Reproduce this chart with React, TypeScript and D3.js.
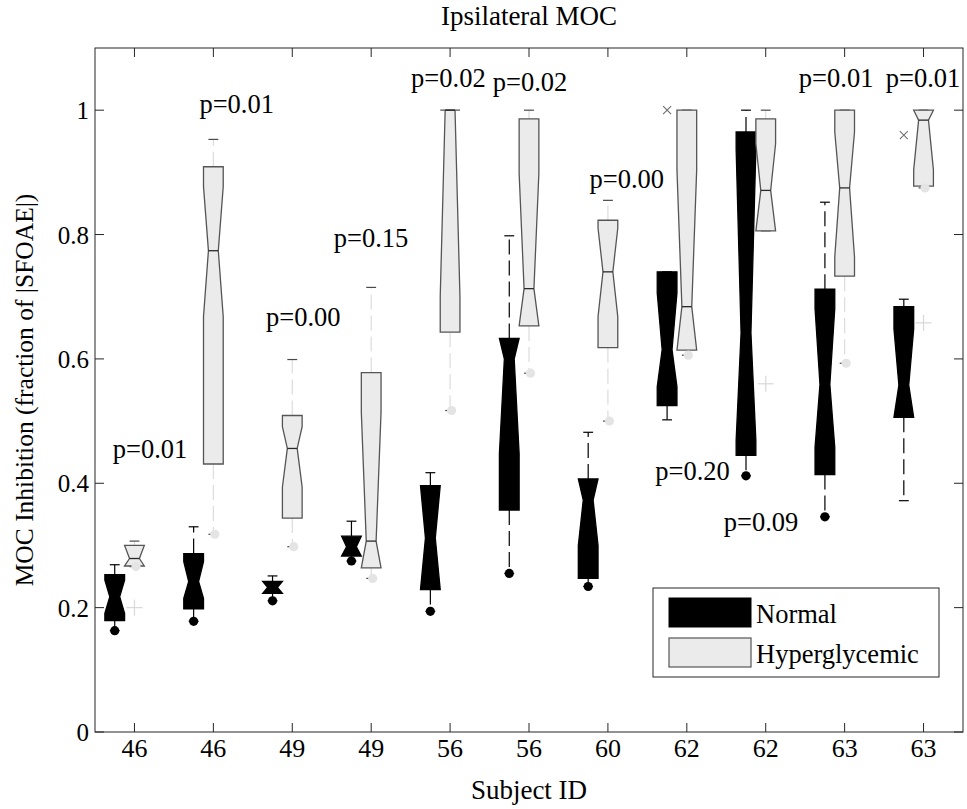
import React from "react";
import * as d3 from "d3";

const categories = ["46", "46", "49", "49", "56", "56", "60", "62", "62", "63", "63"];
const yTicks = [0, 0.2, 0.4, 0.6, 0.8, 1];
const yTickLabels = ["0", "0.2", "0.4", "0.6", "0.8", "1"];

// Normal (black) notched boxes
const normalQ1 = [0.179, 0.198, 0.223, 0.283, 0.229, 0.357, 0.247, 0.525, 0.445, 0.414, 0.506];
const normalMed = [0.2175, 0.242, 0.2325, 0.298, 0.312, 0.6, 0.373, 0.615, 0.642, 0.559, 0.558];
const normalQ3 = [0.253, 0.287, 0.242, 0.315, 0.396, 0.633, 0.407, 0.74, 0.965, 0.712, 0.684];
const normalNotchLo = [0.191, 0.215, 0.215, 0.28, 0.22, 0.448, 0.3, 0.555, 0.469, 0.458, 0.5];
const normalNotchHi = [0.244, 0.274, 0.26, 0.32, 0.4, 0.75, 0.45, 0.706, 0.937, 0.681, 0.648];
const normalWhiskHi = [0.269, 0.33, 0.251, 0.339, 0.417, 0.798, 0.482, 0.74, 1.0, 0.852, 0.696];
const normalWhiskLo = [0.163, 0.178, 0.211, 0.275, 0.194, 0.255, 0.234, 0.502, 0.412, 0.346, 0.372];
const normalLowDot = [true, true, true, true, true, true, true, false, true, true, false];

// Hyperglycemic (gray) notched boxes
const hyperQ1 = [0.267, 0.431, 0.344, 0.264, 0.643, 0.653, 0.618, 0.614, 0.806, 0.733, 0.878];
const hyperMed = [0.279, 0.774, 0.456, 0.307, 1.0, 0.713, 0.74, 0.684, 0.871, 0.875, 0.984];
const hyperQ3 = [0.3, 0.909, 0.509, 0.578, 1.0, 0.986, 0.823, 1.0, 0.986, 1.0, 1.0];
const hyperNotchLo = [0.26, 0.668, 0.394, 0.25, 0.7, 0.64, 0.668, 0.6, 0.8, 0.764, 0.904];
const hyperNotchHi = [0.31, 0.877, 0.491, 0.514, 1.05, 0.898, 0.81, 0.904, 0.946, 0.965, 1.05];
const hyperWhiskHi = [0.307, 0.953, 0.599, 0.715, 1.0, 1.0, 0.855, 1.0, 1.0, 1.0, 1.0];
const hyperWhiskLo = [0.266, 0.318, 0.298, 0.247, 0.517, 0.577, 0.5, 0.606, 0.806, 0.593, 0.875];
const hyperLowDot = [true, true, true, true, true, true, true, true, false, true, true];

// Extra markers
const plusPos = [1, 9, 11];
const plusVal = [0.2, 0.56, 0.658];
const crossPos = [7.75, 10.75];
const crossVal = [1.0, 0.96];

// p-value annotations
const pText = ["p=0.01", "p=0.01", "p=0.00", "p=0.15", "p=0.02", "p=0.02", "p=0.00", "p=0.20", "p=0.09", "p=0.01", "p=0.01"];
const pPos = [1.197, 2.296, 3.14, 3.998, 4.978, 6.013, 7.239, 8.073, 8.941, 9.892, 10.994];
const pVal = [0.455, 1.01, 0.668, 0.794, 1.051, 1.045, 0.89, 0.42, 0.338, 1.051, 1.051];

const FONT = '"Liberation Serif", "Times New Roman", Tinos, "DejaVu Serif", serif';
const W = 967;
const H = 809;

export default function App() {
  const x = d3.scaleLinear().domain([0.5, 11.5]).range([95, 963]);
  const y = d3.scaleLinear().domain([0, 1.1]).range([732, 48]);
  const hw = x(1.125) - x(1);
  const capW = hw / 2;
  const line = d3.line();

  const notchPath = (cx: number, q1: number, med: number, q3: number, nlo: number, nhi: number) => {
    const lo = Math.max(nlo, q1);
    const hi = Math.min(nhi, q3);
    const pts: [number, number][] = [
      [cx - hw, y(q1)], [cx - hw, y(lo)], [cx - hw / 2, y(med)], [cx - hw, y(hi)], [cx - hw, y(q3)],
      [cx + hw, y(q3)], [cx + hw, y(hi)], [cx + hw / 2, y(med)], [cx + hw, y(lo)], [cx + hw, y(q1)],
    ];
    return line(pts) + "Z";
  };

  const renderBox = (
    key: string, cx: number, q1: number, med: number, q3: number, nlo: number, nhi: number,
    wHi: number, wLo: number, dot: boolean, dark: boolean
  ) => {
    const whiskColor = dark ? "#000" : "#dcdcdc";
    const capColor = dark ? "#000" : "#4a4a4a";
    const dotColor = dark ? "#000" : "#e4e4e4";
    return (
      <g key={key}>
        {wHi > q3 && (
          <line x1={cx} x2={cx} y1={y(q3)} y2={y(wHi)} stroke={whiskColor} strokeWidth={1.2} strokeDasharray="15,6" />
        )}
        {wLo < q1 && (
          <line x1={cx} x2={cx} y1={y(q1)} y2={y(wLo)} stroke={whiskColor} strokeWidth={1.2} strokeDasharray="15,6" />
        )}
        <line x1={cx - capW} x2={cx + capW} y1={y(wHi)} y2={y(wHi)} stroke={capColor} strokeWidth={1.2} />
        <line x1={cx - capW} x2={cx + capW} y1={y(wLo)} y2={y(wLo)} stroke={capColor} strokeWidth={1.2} />
        <path
          d={notchPath(cx, q1, med, q3, nlo, nhi)}
          fill={dark ? "#000" : "#ebebeb"}
          stroke={dark ? "#000" : "#555"}
          strokeWidth={1.3}
          strokeLinejoin="miter"
        />
        {!dark && (
          <line x1={cx - hw / 2} x2={cx + hw / 2} y1={y(med)} y2={y(med)} stroke="#2a2a2a" strokeWidth={1.3} />
        )}
        {dot && <circle cx={cx + (dark ? 0 : 1.5)} cy={y(wLo)} r={4.6} fill={dotColor} />}
      </g>
    );
  };

  const axisColor = "#262626";
  const tickLen = 9;
  const ts = { fontFamily: FONT };

  return (
    <svg width={W} height={H} style={{ position: "absolute", left: 0, top: 0, background: "#fff" }}>
      <rect x={0} y={0} width={W} height={H} fill="#fff" />
      {/* title */}
      <text style={ts} x={529} y={25} textAnchor="middle" fontSize={27} fill="#000">Ipsilateral MOC</text>

      {/* boxes */}
      {categories.map((c, i) =>
        renderBox(
          "n" + i, x(i + 1 - 0.25), normalQ1[i], normalMed[i], normalQ3[i], normalNotchLo[i], normalNotchHi[i],
          normalWhiskHi[i], normalWhiskLo[i], normalLowDot[i], true
        )
      )}
      {categories.map((c, i) =>
        renderBox(
          "h" + i, x(i + 1), hyperQ1[i], hyperMed[i], hyperQ3[i], hyperNotchLo[i], hyperNotchHi[i],
          hyperWhiskHi[i], hyperWhiskLo[i], hyperLowDot[i], false
        )
      )}

      {/* plus markers */}
      {plusPos.map((p, i) => (
        <g key={"plus" + i} stroke="#d8d8d8" strokeWidth={1.2}>
          <line x1={x(p) - 8} x2={x(p) + 8} y1={y(plusVal[i])} y2={y(plusVal[i])} />
          <line x1={x(p)} x2={x(p)} y1={y(plusVal[i]) - 8} y2={y(plusVal[i]) + 8} />
        </g>
      ))}
      {/* cross markers */}
      {crossPos.map((p, i) => (
        <g key={"cross" + i} stroke="#707070" strokeWidth={1.1}>
          <line x1={x(p) - 4} x2={x(p) + 4} y1={y(crossVal[i]) - 4} y2={y(crossVal[i]) + 4} />
          <line x1={x(p) - 4} x2={x(p) + 4} y1={y(crossVal[i]) + 4} y2={y(crossVal[i]) - 4} />
        </g>
      ))}

      {/* p-values */}
      {pText.map((t, i) => (
        <text style={ts} key={"p" + i} x={x(pPos[i])} y={y(pVal[i]) + 9} textAnchor="middle" fontSize={26.5} fill="#000">
          {t}
        </text>
      ))}

      {/* axes box */}
      <rect x={x(0.5)} y={y(1.1)} width={x(11.5) - x(0.5)} height={y(0) - y(1.1)} fill="none" stroke={axisColor} strokeWidth={1} />
      {categories.map((c, i) => (
        <g key={"xt" + i}>
          <line x1={x(i + 1)} x2={x(i + 1)} y1={y(0)} y2={y(0) - tickLen} stroke={axisColor} />
          <line x1={x(i + 1)} x2={x(i + 1)} y1={y(1.1)} y2={y(1.1) + tickLen} stroke={axisColor} />
          <text style={ts} x={x(i + 1)} y={757} textAnchor="middle" fontSize={26} fill="#000">{c}</text>
        </g>
      ))}
      {yTicks.map((t, i) => (
        <g key={"yt" + i}>
          <line x1={x(0.5)} x2={x(0.5) + tickLen} y1={y(t)} y2={y(t)} stroke={axisColor} />
          <line x1={x(11.5)} x2={x(11.5) - tickLen} y1={y(t)} y2={y(t)} stroke={axisColor} />
          <text style={ts} x={89} y={y(t) + 9} textAnchor="end" fontSize={25} fill="#000">{yTickLabels[i]}</text>
        </g>
      ))}

      {/* axis labels */}
      <text style={ts} x={529} y={799} textAnchor="middle" fontSize={27} fill="#000">Subject ID</text>
      <text style={ts} transform={`translate(33, 390) rotate(-90)`} textAnchor="middle" fontSize={25.5} fill="#000">
        MOC Inhibition (fraction of |SFOAE|)
      </text>

      {/* legend */}
      <g>
        <rect x={653} y={588} width={286} height={89} fill="#fff" stroke={axisColor} strokeWidth={1} />
        <rect x={669} y={598} width={82} height={29} fill="#000" stroke="#000" />
        <rect x={669} y={638} width={82} height={29} fill="#ebebeb" stroke="#555" strokeWidth={1.2} />
        <text style={ts} x={756} y={623} fontSize={26.5} fill="#000">Normal</text>
        <text style={ts} x={756} y={663} fontSize={26.5} fill="#000">Hyperglycemic</text>
      </g>
    </svg>
  );
}
